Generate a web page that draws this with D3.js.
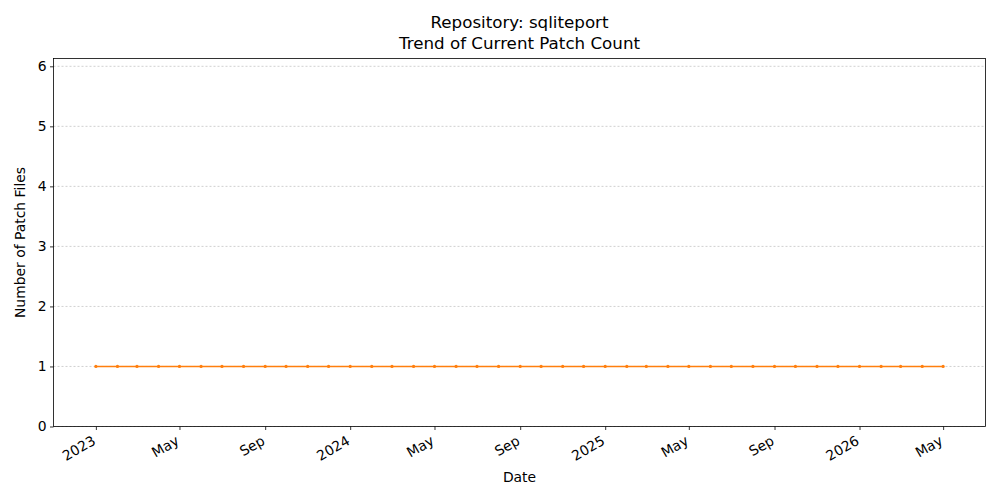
<!DOCTYPE html>
<html><head><meta charset="utf-8">
<script src="https://cdn.jsdelivr.net/npm/d3@7"></script>
<style>body{margin:0;background:#fff;} text{font-family:"DejaVu Sans",sans-serif;}</style>
</head><body>
<svg id="c" width="1000" height="500"></svg>
<script>
const dates = ["2023-01-01","2023-02-01","2023-03-01","2023-04-01","2023-05-01","2023-06-01","2023-07-01","2023-08-01","2023-09-01","2023-10-01","2023-11-01","2023-12-01",
"2024-01-01","2024-02-01","2024-03-01","2024-04-01","2024-05-01","2024-06-01","2024-07-01","2024-08-01","2024-09-01","2024-10-01","2024-11-01","2024-12-01",
"2025-01-01","2025-02-01","2025-03-01","2025-04-01","2025-05-01","2025-06-01","2025-07-01","2025-08-01","2025-09-01","2025-10-01","2025-11-01","2025-12-01",
"2026-01-01","2026-02-01","2026-03-01","2026-04-01","2026-05-01"];
const patchCounts = [1,1,1,1,1,1,1,1,1,1,1,1,1,1,1,1,1,1,1,1,1,1,1,1,1,1,1,1,1,1,1,1,1,1,1,1,1,1,1,1,1];
const yTicks = [0,1,2,3,4,5,6];
const xTickDates = ["2023-01-01","2023-05-01","2023-09-01","2024-01-01","2024-05-01","2024-09-01","2025-01-01","2025-05-01","2025-09-01","2026-01-01","2026-05-01"];
const xTickLabels = ["2023","May","Sep","2024","May","Sep","2025","May","Sep","2026","May"];
const titleLines = ["Repository: sqliteport","Trend of Current Patch Count"];

const parse = d3.utcParse("%Y-%m-%d");
const data = dates.map((d,i)=>({date:parse(d), v:patchCounts[i]}));
const L=53.5, R=985.5, T=58.5, B=426.5;
const svg = d3.select("#c");
const ext = d3.extent(data, d=>d.date);
const span = ext[1]-ext[0];
const x = d3.scaleUtc().domain([new Date(+ext[0]-span*0.05), new Date(+ext[1]+span*0.05)]).range([L,R]);
const y = d3.scaleLinear().domain([0,6.13]).range([B,T]);

// grid
svg.append("g").selectAll("line").data(yTicks).join("line")
  .attr("x1",L).attr("x2",R).attr("y1",d=>y(d)).attr("y2",d=>y(d))
  .attr("stroke","#b0b0b0").attr("stroke-width",0.6).attr("stroke-dasharray","2,2");

// line
svg.append("path").datum(data)
  .attr("d", d3.line().x(d=>x(d.date)).y(d=>y(d.v)))
  .attr("fill","none").attr("stroke","#ff7f0e").attr("stroke-width",1.5);
svg.append("g").selectAll("circle").data(data).join("circle")
  .attr("cx",d=>x(d.date)).attr("cy",d=>y(d.v)).attr("r",1.6).attr("fill","#ff7f0e");

// axes
const xAxis = d3.axisBottom(x).tickValues(xTickDates.map(parse))
  .tickFormat((d,i)=>xTickLabels[i]).tickSize(3.5).tickSizeOuter(0);
const gx = svg.append("g").attr("transform",`translate(0,${B})`).call(xAxis);
gx.select(".domain").remove();
gx.selectAll("line").attr("stroke","#000").attr("stroke-width",0.8);
gx.selectAll("text").attr("font-size","13.9px").attr("fill","#000")
  .attr("text-anchor","end").attr("dy",null).attr("y",0)
  .attr("transform","translate(-5,8) rotate(-30)").attr("dominant-baseline","hanging");

const yAxis = d3.axisLeft(y).tickValues(yTicks).tickFormat(d3.format("d")).tickSize(3.5);
const gy = svg.append("g").attr("transform",`translate(${L},0)`).call(yAxis);
gy.select(".domain").remove();
gy.selectAll("line").attr("stroke","#000").attr("stroke-width",0.8);
gy.selectAll("text").attr("font-size","13.9px").attr("fill","#000").attr("x",-7);

svg.append("rect").attr("x",L).attr("y",T).attr("width",R-L).attr("height",B-T)
  .attr("fill","none").attr("stroke","#000").attr("stroke-width",0.8);

svg.append("text").attr("x",(L+R)/2).attr("y",482).attr("text-anchor","middle")
  .attr("font-size","13.9px").text("Date");
svg.append("text").attr("transform",`translate(25,${(T+B)/2}) rotate(-90)`).attr("text-anchor","middle")
  .attr("font-size","13.9px").text("Number of Patch Files");
svg.append("g").selectAll("text").data(titleLines).join("text")
  .attr("x",(L+R)/2).attr("y",(d,i)=>28+i*21).attr("text-anchor","middle")
  .attr("font-size","16.7px").text(d=>d);
</script>
</body></html>
